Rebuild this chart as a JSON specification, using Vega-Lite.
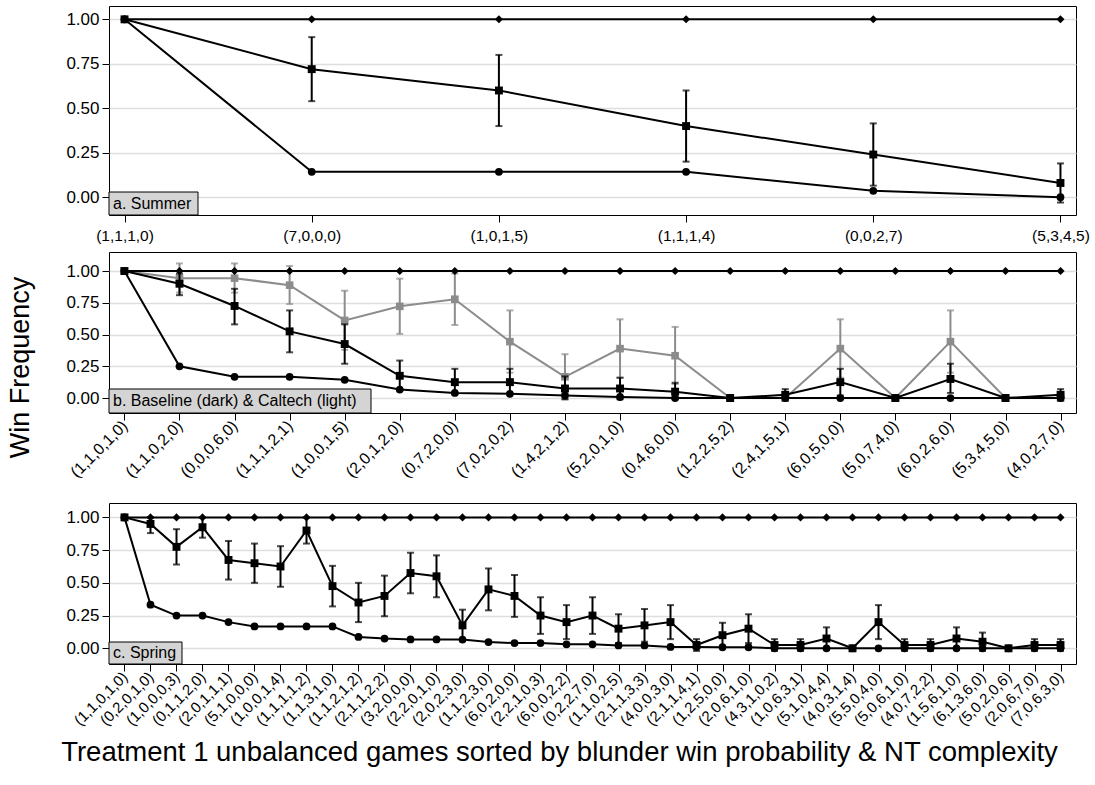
{
"$schema": "https://vega.github.io/schema/vega-lite/v6.json",
"padding": {"left": 5, "top": 5, "right": 5, "bottom": 5},
"background": "#ffffff",
"spacing": 7,
"config": {
  "font": "Liberation Sans",
  "view": {"stroke": "#000000", "strokeWidth": 1},
  "axis": {"domain": false, "tickColor": "#000000", "tickSize": 7, "tickWidth": 1, "labelColor": "#000000", "titleColor": "#000000", "labelFont": "Liberation Sans", "titleFont": "Liberation Sans", "titleFontWeight": "normal", "gridColor": "#dedede", "gridWidth": 1.6}
},
"datasets": {
  "A": [
    {"g":"(1,1,1,0)","s":"top","v":1},{"g":"(7,0,0,0)","s":"top","v":1},{"g":"(1,0,1,5)","s":"top","v":1},{"g":"(1,1,1,4)","s":"top","v":1},{"g":"(0,0,2,7)","s":"top","v":1},{"g":"(5,3,4,5)","s":"top","v":1},
    {"g":"(1,1,1,0)","s":"mid","v":1},{"g":"(7,0,0,0)","s":"mid","v":0.72,"lo":0.54,"hi":0.9},{"g":"(1,0,1,5)","s":"mid","v":0.6,"lo":0.4,"hi":0.8},{"g":"(1,1,1,4)","s":"mid","v":0.4,"lo":0.2,"hi":0.6},{"g":"(0,0,2,7)","s":"mid","v":0.24,"lo":0.065,"hi":0.415},{"g":"(5,3,4,5)","s":"mid","v":0.08,"lo":-0.03,"hi":0.19},
    {"g":"(1,1,1,0)","s":"low","v":1},{"g":"(7,0,0,0)","s":"low","v":0.143},{"g":"(1,0,1,5)","s":"low","v":0.143},{"g":"(1,1,1,4)","s":"low","v":0.143},{"g":"(0,0,2,7)","s":"low","v":0.036},{"g":"(5,3,4,5)","s":"low","v":0}
  ],
  "B": [
    {"g":"(1,1,0,1,0)","s":"cal","v":1},{"g":"(1,1,0,2,0)","s":"cal","v":0.944,"lo":0.83,"hi":1.06},{"g":"(0,0,0,6,0)","s":"cal","v":0.944,"lo":0.83,"hi":1.06},{"g":"(1,1,1,2,1)","s":"cal","v":0.889,"lo":0.74,"hi":1.04},{"g":"(1,0,0,1,5)","s":"cal","v":0.611,"lo":0.38,"hi":0.845},{"g":"(2,0,1,2,0)","s":"cal","v":0.722,"lo":0.505,"hi":0.94},{"g":"(0,7,2,0,0)","s":"cal","v":0.778,"lo":0.575,"hi":0.98},{"g":"(7,0,2,0,2)","s":"cal","v":0.444,"lo":0.2,"hi":0.69},{"g":"(1,4,2,1,2)","s":"cal","v":0.167,"lo":-0.01,"hi":0.345},{"g":"(5,2,0,1,0)","s":"cal","v":0.389,"lo":0.16,"hi":0.62},{"g":"(0,4,6,0,0)","s":"cal","v":0.333,"lo":0.11,"hi":0.56},{"g":"(1,2,2,5,2)","s":"cal","v":0},{"g":"(2,4,1,5,1)","s":"cal","v":0},{"g":"(6,0,5,0,0)","s":"cal","v":0.389,"lo":0.16,"hi":0.62},{"g":"(5,0,7,4,0)","s":"cal","v":0},{"g":"(6,0,2,6,0)","s":"cal","v":0.444,"lo":0.2,"hi":0.69},{"g":"(5,3,4,5,0)","s":"cal","v":0},{"g":"(4,0,2,7,0)","s":"cal","v":0},
    {"g":"(1,1,0,1,0)","s":"top","v":1},{"g":"(1,1,0,2,0)","s":"top","v":1},{"g":"(0,0,0,6,0)","s":"top","v":1},{"g":"(1,1,1,2,1)","s":"top","v":1},{"g":"(1,0,0,1,5)","s":"top","v":1},{"g":"(2,0,1,2,0)","s":"top","v":1},{"g":"(0,7,2,0,0)","s":"top","v":1},{"g":"(7,0,2,0,2)","s":"top","v":1},{"g":"(1,4,2,1,2)","s":"top","v":1},{"g":"(5,2,0,1,0)","s":"top","v":1},{"g":"(0,4,6,0,0)","s":"top","v":1},{"g":"(1,2,2,5,2)","s":"top","v":1},{"g":"(2,4,1,5,1)","s":"top","v":1},{"g":"(6,0,5,0,0)","s":"top","v":1},{"g":"(5,0,7,4,0)","s":"top","v":1},{"g":"(6,0,2,6,0)","s":"top","v":1},{"g":"(5,3,4,5,0)","s":"top","v":1},{"g":"(4,0,2,7,0)","s":"top","v":1},
    {"g":"(1,1,0,1,0)","s":"mid","v":1},{"g":"(1,1,0,2,0)","s":"mid","v":0.9,"lo":0.81,"hi":0.98},{"g":"(0,0,0,6,0)","s":"mid","v":0.725,"lo":0.58,"hi":0.86},{"g":"(1,1,1,2,1)","s":"mid","v":0.525,"lo":0.36,"hi":0.69},{"g":"(1,0,0,1,5)","s":"mid","v":0.425,"lo":0.27,"hi":0.58},{"g":"(2,0,1,2,0)","s":"mid","v":0.175,"lo":0.06,"hi":0.295},{"g":"(0,7,2,0,0)","s":"mid","v":0.125,"lo":0.03,"hi":0.23},{"g":"(7,0,2,0,2)","s":"mid","v":0.125,"lo":0.03,"hi":0.23},{"g":"(1,4,2,1,2)","s":"mid","v":0.075,"lo":-0.01,"hi":0.17},{"g":"(5,2,0,1,0)","s":"mid","v":0.075,"lo":-0.01,"hi":0.16},{"g":"(0,4,6,0,0)","s":"mid","v":0.05,"lo":-0.01,"hi":0.12},{"g":"(1,2,2,5,2)","s":"mid","v":0},{"g":"(2,4,1,5,1)","s":"mid","v":0.025,"lo":-0.02,"hi":0.07},{"g":"(6,0,5,0,0)","s":"mid","v":0.125,"lo":0.02,"hi":0.23},{"g":"(5,0,7,4,0)","s":"mid","v":0},{"g":"(6,0,2,6,0)","s":"mid","v":0.15,"lo":0.04,"hi":0.27},{"g":"(5,3,4,5,0)","s":"mid","v":0},{"g":"(4,0,2,7,0)","s":"mid","v":0.025,"lo":-0.02,"hi":0.07},
    {"g":"(1,1,0,1,0)","s":"low","v":1},{"g":"(1,1,0,2,0)","s":"low","v":0.25},{"g":"(0,0,0,6,0)","s":"low","v":0.167},{"g":"(1,1,1,2,1)","s":"low","v":0.167},{"g":"(1,0,0,1,5)","s":"low","v":0.143},{"g":"(2,0,1,2,0)","s":"low","v":0.067},{"g":"(0,7,2,0,0)","s":"low","v":0.04},{"g":"(7,0,2,0,2)","s":"low","v":0.033},{"g":"(1,4,2,1,2)","s":"low","v":0.02},{"g":"(5,2,0,1,0)","s":"low","v":0.008},{"g":"(0,4,6,0,0)","s":"low","v":0},{"g":"(1,2,2,5,2)","s":"low","v":0},{"g":"(2,4,1,5,1)","s":"low","v":0},{"g":"(6,0,5,0,0)","s":"low","v":0},{"g":"(5,0,7,4,0)","s":"low","v":0},{"g":"(6,0,2,6,0)","s":"low","v":0},{"g":"(5,3,4,5,0)","s":"low","v":0},{"g":"(4,0,2,7,0)","s":"low","v":0}
  ],
  "C": [
    {"g":"(1,1,0,1,0)","s":"top","v":1},{"g":"(0,2,0,1,0)","s":"top","v":1},{"g":"(1,0,0,0,3)","s":"top","v":1},{"g":"(0,1,1,2,0)","s":"top","v":1},{"g":"(2,0,1,1,1)","s":"top","v":1},{"g":"(5,1,0,0,0)","s":"top","v":1},{"g":"(1,0,0,1,4)","s":"top","v":1},{"g":"(1,1,1,1,2)","s":"top","v":1},{"g":"(1,1,3,1,0)","s":"top","v":1},{"g":"(1,1,2,1,2)","s":"top","v":1},{"g":"(2,1,1,2,2)","s":"top","v":1},{"g":"(3,2,0,0,0)","s":"top","v":1},{"g":"(2,2,0,1,0)","s":"top","v":1},{"g":"(2,0,2,3,0)","s":"top","v":1},{"g":"(1,1,2,3,0)","s":"top","v":1},{"g":"(6,0,2,0,0)","s":"top","v":1},{"g":"(2,2,1,0,3)","s":"top","v":1},{"g":"(6,0,0,2,2)","s":"top","v":1},{"g":"(0,2,2,7,0)","s":"top","v":1},{"g":"(1,1,0,2,5)","s":"top","v":1},{"g":"(2,1,1,3,3)","s":"top","v":1},{"g":"(4,0,0,3,0)","s":"top","v":1},{"g":"(2,1,1,4,1)","s":"top","v":1},{"g":"(1,2,5,0,0)","s":"top","v":1},{"g":"(2,0,6,1,0)","s":"top","v":1},{"g":"(4,3,1,0,2)","s":"top","v":1},{"g":"(1,0,6,3,1)","s":"top","v":1},{"g":"(5,1,0,4,4)","s":"top","v":1},{"g":"(4,0,3,1,4)","s":"top","v":1},{"g":"(5,5,0,4,0)","s":"top","v":1},{"g":"(5,0,6,1,0)","s":"top","v":1},{"g":"(4,0,7,2,2)","s":"top","v":1},{"g":"(1,5,6,1,0)","s":"top","v":1},{"g":"(6,1,3,6,0)","s":"top","v":1},{"g":"(5,0,2,0,6)","s":"top","v":1},{"g":"(2,0,6,7,0)","s":"top","v":1},{"g":"(7,0,6,3,0)","s":"top","v":1},
    {"g":"(1,1,0,1,0)","s":"mid","v":1},{"g":"(0,2,0,1,0)","s":"mid","v":0.95,"lo":0.88,"hi":1.0},{"g":"(1,0,0,0,3)","s":"mid","v":0.775,"lo":0.64,"hi":0.91},{"g":"(0,1,1,2,0)","s":"mid","v":0.925,"lo":0.845,"hi":1.0},{"g":"(2,0,1,1,1)","s":"mid","v":0.675,"lo":0.525,"hi":0.82},{"g":"(5,1,0,0,0)","s":"mid","v":0.65,"lo":0.5,"hi":0.8},{"g":"(1,0,0,1,4)","s":"mid","v":0.625,"lo":0.47,"hi":0.78},{"g":"(1,1,1,1,2)","s":"mid","v":0.9,"lo":0.8,"hi":1.0},{"g":"(1,1,3,1,0)","s":"mid","v":0.475,"lo":0.32,"hi":0.63},{"g":"(1,1,2,1,2)","s":"mid","v":0.35,"lo":0.2,"hi":0.5},{"g":"(2,1,1,2,2)","s":"mid","v":0.4,"lo":0.245,"hi":0.555},{"g":"(3,2,0,0,0)","s":"mid","v":0.575,"lo":0.42,"hi":0.73},{"g":"(2,2,0,1,0)","s":"mid","v":0.55,"lo":0.39,"hi":0.71},{"g":"(2,0,2,3,0)","s":"mid","v":0.175,"lo":0.055,"hi":0.295},{"g":"(1,1,2,3,0)","s":"mid","v":0.45,"lo":0.29,"hi":0.61},{"g":"(6,0,2,0,0)","s":"mid","v":0.4,"lo":0.24,"hi":0.56},{"g":"(2,2,1,0,3)","s":"mid","v":0.25,"lo":0.11,"hi":0.39},{"g":"(6,0,0,2,2)","s":"mid","v":0.2,"lo":0.07,"hi":0.33},{"g":"(0,2,2,7,0)","s":"mid","v":0.25,"lo":0.11,"hi":0.39},{"g":"(1,1,0,2,5)","s":"mid","v":0.15,"lo":0.04,"hi":0.26},{"g":"(2,1,1,3,3)","s":"mid","v":0.175,"lo":0.05,"hi":0.3},{"g":"(4,0,0,3,0)","s":"mid","v":0.2,"lo":0.07,"hi":0.33},{"g":"(2,1,1,4,1)","s":"mid","v":0.025,"lo":-0.02,"hi":0.07},{"g":"(1,2,5,0,0)","s":"mid","v":0.1,"lo":0.005,"hi":0.195},{"g":"(2,0,6,1,0)","s":"mid","v":0.15,"lo":0.04,"hi":0.26},{"g":"(4,3,1,0,2)","s":"mid","v":0.025,"lo":-0.02,"hi":0.07},{"g":"(1,0,6,3,1)","s":"mid","v":0.025,"lo":-0.02,"hi":0.07},{"g":"(5,1,0,4,4)","s":"mid","v":0.075,"lo":-0.01,"hi":0.16},{"g":"(4,0,3,1,4)","s":"mid","v":0},{"g":"(5,5,0,4,0)","s":"mid","v":0.2,"lo":0.07,"hi":0.33},{"g":"(5,0,6,1,0)","s":"mid","v":0.025,"lo":-0.02,"hi":0.07},{"g":"(4,0,7,2,2)","s":"mid","v":0.025,"lo":-0.02,"hi":0.07},{"g":"(1,5,6,1,0)","s":"mid","v":0.075,"lo":-0.01,"hi":0.16},{"g":"(6,1,3,6,0)","s":"mid","v":0.05,"lo":-0.02,"hi":0.12},{"g":"(5,0,2,0,6)","s":"mid","v":0},{"g":"(2,0,6,7,0)","s":"mid","v":0.025,"lo":-0.02,"hi":0.07},{"g":"(7,0,6,3,0)","s":"mid","v":0.025,"lo":-0.02,"hi":0.07},
    {"g":"(1,1,0,1,0)","s":"low","v":1},{"g":"(0,2,0,1,0)","s":"low","v":0.333},{"g":"(1,0,0,0,3)","s":"low","v":0.25},{"g":"(0,1,1,2,0)","s":"low","v":0.25},{"g":"(2,0,1,1,1)","s":"low","v":0.2},{"g":"(5,1,0,0,0)","s":"low","v":0.167},{"g":"(1,0,0,1,4)","s":"low","v":0.167},{"g":"(1,1,1,1,2)","s":"low","v":0.167},{"g":"(1,1,3,1,0)","s":"low","v":0.167},{"g":"(1,1,2,1,2)","s":"low","v":0.087},{"g":"(2,1,1,2,2)","s":"low","v":0.074},{"g":"(3,2,0,0,0)","s":"low","v":0.068},{"g":"(2,2,0,1,0)","s":"low","v":0.068},{"g":"(2,0,2,3,0)","s":"low","v":0.067},{"g":"(1,1,2,3,0)","s":"low","v":0.048},{"g":"(6,0,2,0,0)","s":"low","v":0.04},{"g":"(2,2,1,0,3)","s":"low","v":0.04},{"g":"(6,0,0,2,2)","s":"low","v":0.03},{"g":"(0,2,2,7,0)","s":"low","v":0.03},{"g":"(1,1,0,2,5)","s":"low","v":0.022},{"g":"(2,1,1,3,3)","s":"low","v":0.022},{"g":"(4,0,0,3,0)","s":"low","v":0.01},{"g":"(2,1,1,4,1)","s":"low","v":0.01},{"g":"(1,2,5,0,0)","s":"low","v":0.008},{"g":"(2,0,6,1,0)","s":"low","v":0.008},{"g":"(4,3,1,0,2)","s":"low","v":0},{"g":"(1,0,6,3,1)","s":"low","v":0},{"g":"(5,1,0,4,4)","s":"low","v":0},{"g":"(4,0,3,1,4)","s":"low","v":0},{"g":"(5,5,0,4,0)","s":"low","v":0},{"g":"(5,0,6,1,0)","s":"low","v":0},{"g":"(4,0,7,2,2)","s":"low","v":0},{"g":"(1,5,6,1,0)","s":"low","v":0},{"g":"(6,1,3,6,0)","s":"low","v":0},{"g":"(5,0,2,0,6)","s":"low","v":0},{"g":"(2,0,6,7,0)","s":"low","v":0},{"g":"(7,0,6,3,0)","s":"low","v":0}
  ]
},
"vconcat": [
  {
    "width": 967, "height": 209,
    "data": {"name": "A"},
    "encoding": {"x": {"field": "g", "type": "nominal", "sort": null, "scale": {"type": "point", "padding": 0.083, "domain": ["(1,1,1,0)","(7,0,0,0)","(1,0,1,5)","(1,1,1,4)","(0,0,2,7)","(5,3,4,5)"]}, "axis": {"title": null, "labelAngle": 0, "labelFontSize": 15.5, "labelPadding": 6, "grid": false, "labelOverlap": false}}},
    "layer": [
      {"transform": [{"filter": "isValid(datum.hi)"}], "mark": {"type": "rule", "strokeWidth": 2},
       "encoding": {"y": {"field": "lo", "type": "quantitative", "scale": {"domain": [-0.1, 1.075], "nice": false, "zero": false}}, "y2": {"field": "hi"}, "color": {"field": "s", "type": "nominal", "scale": {"domain": ["top","mid","low","cal"], "range": ["#000000","#000000","#000000","#8c8c8c"]}, "legend": null}}},
      {"transform": [{"filter": "isValid(datum.hi)"}], "mark": {"type": "tick", "thickness": 2, "size": 7},
       "encoding": {"y": {"field": "lo", "type": "quantitative"}, "color": {"field": "s", "type": "nominal", "legend": null}}},
      {"transform": [{"filter": "isValid(datum.hi)"}], "mark": {"type": "tick", "thickness": 2, "size": 7},
       "encoding": {"y": {"field": "hi", "type": "quantitative"}, "color": {"field": "s", "type": "nominal", "legend": null}}},
      {"mark": {"type": "line", "strokeWidth": 2},
       "encoding": {"y": {"field": "v", "type": "quantitative", "axis": {"title": null, "values": [0, 0.25, 0.5, 0.75, 1], "format": ".2f", "grid": true, "labelFontSize": 17, "labelPadding": 3}}, "color": {"field": "s", "type": "nominal", "legend": null}, "detail": {"field": "s"}, "order": {"value": null}}},
      {"mark": {"type": "point", "filled": true, "opacity": 1},
       "encoding": {"y": {"field": "v", "type": "quantitative"}, "color": {"field": "s", "type": "nominal", "legend": null}, "shape": {"field": "s", "type": "nominal", "scale": {"domain": ["top","mid","low","cal"], "range": ["diamond","square","circle","square"]}, "legend": null}, "size": {"field": "s", "type": "nominal", "scale": {"domain": ["top","mid","low","cal"], "range": [65, 58, 42, 58]}, "legend": null}}},
      {"data": {"values": [{"lab": "a. Summer"}]}, "mark": {"type": "rect", "fill": "#d4d4d4", "stroke": "#000000", "strokeWidth": 1},
       "encoding": {"x": {"value": 0}, "x2": {"value": 89}, "y": {"value": 186}, "y2": {"value": 209}}},
      {"data": {"values": [{"lab": "a. Summer"}]}, "mark": {"type": "text", "align": "left", "baseline": "middle", "fontSize": 16, "color": "#000000"},
       "encoding": {"x": {"value": 4}, "y": {"value": 197.5}, "text": {"field": "lab"}}}
    ]
  },
  {
    "width": 967, "height": 161,
    "data": {"name": "B"},
    "encoding": {"x": {"field": "g", "type": "nominal", "sort": null, "scale": {"type": "point", "padding": 0.28, "domain": ["(1,1,0,1,0)","(1,1,0,2,0)","(0,0,0,6,0)","(1,1,1,2,1)","(1,0,0,1,5)","(2,0,1,2,0)","(0,7,2,0,0)","(7,0,2,0,2)","(1,4,2,1,2)","(5,2,0,1,0)","(0,4,6,0,0)","(1,2,2,5,2)","(2,4,1,5,1)","(6,0,5,0,0)","(5,0,7,4,0)","(6,0,2,6,0)","(5,3,4,5,0)","(4,0,2,7,0)"]}, "axis": {"title": " ", "titleFontSize": 10, "titlePadding": 4, "labelAngle": -45, "labelAlign": "right", "labelBaseline": "middle", "labelFontSize": 16, "labelPadding": 3, "grid": false, "labelOverlap": false}}},
    "layer": [
      {"transform": [{"filter": "datum.s == 'cal' && isValid(datum.hi)"}], "mark": {"type": "rule", "strokeWidth": 2},
       "encoding": {"y": {"field": "lo", "type": "quantitative", "scale": {"domain": [-0.118, 1.15], "nice": false, "zero": false}}, "y2": {"field": "hi"}, "color": {"field": "s", "type": "nominal", "scale": {"domain": ["top","mid","low","cal"], "range": ["#000000","#000000","#000000","#8c8c8c"]}, "legend": null}}},
      {"transform": [{"filter": "datum.s == 'cal' && isValid(datum.hi)"}], "mark": {"type": "tick", "thickness": 2, "size": 7},
       "encoding": {"y": {"field": "lo", "type": "quantitative"}, "color": {"field": "s", "type": "nominal", "legend": null}}},
      {"transform": [{"filter": "datum.s == 'cal' && isValid(datum.hi)"}], "mark": {"type": "tick", "thickness": 2, "size": 7},
       "encoding": {"y": {"field": "hi", "type": "quantitative"}, "color": {"field": "s", "type": "nominal", "legend": null}}},
      {"transform": [{"filter": "datum.s == 'cal'"}], "mark": {"type": "line", "strokeWidth": 2},
       "encoding": {"y": {"field": "v", "type": "quantitative"}, "color": {"field": "s", "type": "nominal", "legend": null}, "detail": {"field": "s"}, "order": {"value": null}}},
      {"transform": [{"filter": "datum.s == 'cal'"}], "mark": {"type": "point", "filled": true, "opacity": 1},
       "encoding": {"y": {"field": "v", "type": "quantitative"}, "color": {"field": "s", "type": "nominal", "legend": null}, "shape": {"field": "s", "type": "nominal", "scale": {"domain": ["top","mid","low","cal"], "range": ["diamond","square","circle","square"]}, "legend": null}, "size": {"field": "s", "type": "nominal", "scale": {"domain": ["top","mid","low","cal"], "range": [65, 58, 42, 58]}, "legend": null}}},
      {"transform": [{"filter": "datum.s != 'cal' && isValid(datum.hi)"}], "mark": {"type": "rule", "strokeWidth": 2},
       "encoding": {"y": {"field": "lo", "type": "quantitative"}, "y2": {"field": "hi"}, "color": {"field": "s", "type": "nominal", "legend": null}}},
      {"transform": [{"filter": "datum.s != 'cal' && isValid(datum.hi)"}], "mark": {"type": "tick", "thickness": 2, "size": 7},
       "encoding": {"y": {"field": "lo", "type": "quantitative"}, "color": {"field": "s", "type": "nominal", "legend": null}}},
      {"transform": [{"filter": "datum.s != 'cal' && isValid(datum.hi)"}], "mark": {"type": "tick", "thickness": 2, "size": 7},
       "encoding": {"y": {"field": "hi", "type": "quantitative"}, "color": {"field": "s", "type": "nominal", "legend": null}}},
      {"transform": [{"filter": "datum.s != 'cal'"}], "mark": {"type": "line", "strokeWidth": 2},
       "encoding": {"y": {"field": "v", "type": "quantitative", "axis": {"title": "Win Frequency", "titleFontSize": 27, "titleX": -81, "titleY": 115, "titleAngle": -90, "titleAlign": "center", "titleBaseline": "alphabetic", "values": [0, 0.25, 0.5, 0.75, 1], "format": ".2f", "grid": true, "labelFontSize": 17, "labelPadding": 3}}, "color": {"field": "s", "type": "nominal", "legend": null}, "detail": {"field": "s"}, "order": {"value": null}}},
      {"transform": [{"filter": "datum.s != 'cal'"}], "mark": {"type": "point", "filled": true, "opacity": 1},
       "encoding": {"y": {"field": "v", "type": "quantitative"}, "color": {"field": "s", "type": "nominal", "legend": null}, "shape": {"field": "s", "type": "nominal", "legend": null}, "size": {"field": "s", "type": "nominal", "legend": null}}},
      {"data": {"values": [{"lab": "b. Baseline (dark) & Caltech (light)"}]}, "mark": {"type": "rect", "fill": "#d4d4d4", "stroke": "#000000", "strokeWidth": 1},
       "encoding": {"x": {"value": 0}, "x2": {"value": 262}, "y": {"value": 137}, "y2": {"value": 161}}},
      {"data": {"values": [{"lab": "b. Baseline (dark) & Caltech (light)"}]}, "mark": {"type": "text", "align": "left", "baseline": "middle", "fontSize": 16, "color": "#000000"},
       "encoding": {"x": {"value": 4}, "y": {"value": 149}, "text": {"field": "lab"}}}
    ]
  },
  {
    "width": 967, "height": 161,
    "data": {"name": "C"},
    "encoding": {"x": {"field": "g", "type": "nominal", "sort": null, "scale": {"type": "point", "padding": 0.596, "domain": ["(1,1,0,1,0)","(0,2,0,1,0)","(1,0,0,0,3)","(0,1,1,2,0)","(2,0,1,1,1)","(5,1,0,0,0)","(1,0,0,1,4)","(1,1,1,1,2)","(1,1,3,1,0)","(1,1,2,1,2)","(2,1,1,2,2)","(3,2,0,0,0)","(2,2,0,1,0)","(2,0,2,3,0)","(1,1,2,3,0)","(6,0,2,0,0)","(2,2,1,0,3)","(6,0,0,2,2)","(0,2,2,7,0)","(1,1,0,2,5)","(2,1,1,3,3)","(4,0,0,3,0)","(2,1,1,4,1)","(1,2,5,0,0)","(2,0,6,1,0)","(4,3,1,0,2)","(1,0,6,3,1)","(5,1,0,4,4)","(4,0,3,1,4)","(5,5,0,4,0)","(5,0,6,1,0)","(4,0,7,2,2)","(1,5,6,1,0)","(6,1,3,6,0)","(5,0,2,0,6)","(2,0,6,7,0)","(7,0,6,3,0)"]}, "axis": {"title": "Treatment 1 unbalanced games sorted by blunder win probability & NT complexity", "titleFontSize": 27.5, "titleX": 450, "titleY": 88, "titleAlign": "center", "titleBaseline": "middle", "labelAngle": -45, "labelAlign": "right", "labelBaseline": "middle", "labelFontSize": 15, "labelPadding": 3, "grid": false, "labelOverlap": false}}},
    "layer": [
      {"transform": [{"filter": "isValid(datum.hi)"}], "mark": {"type": "rule", "strokeWidth": 2},
       "encoding": {"y": {"field": "lo", "type": "quantitative", "scale": {"domain": [-0.12, 1.11], "nice": false, "zero": false}}, "y2": {"field": "hi"}, "color": {"field": "s", "type": "nominal", "scale": {"domain": ["top","mid","low","cal"], "range": ["#000000","#000000","#000000","#8c8c8c"]}, "legend": null}}},
      {"transform": [{"filter": "isValid(datum.hi)"}], "mark": {"type": "tick", "thickness": 2, "size": 7},
       "encoding": {"y": {"field": "lo", "type": "quantitative"}, "color": {"field": "s", "type": "nominal", "legend": null}}},
      {"transform": [{"filter": "isValid(datum.hi)"}], "mark": {"type": "tick", "thickness": 2, "size": 7},
       "encoding": {"y": {"field": "hi", "type": "quantitative"}, "color": {"field": "s", "type": "nominal", "legend": null}}},
      {"mark": {"type": "line", "strokeWidth": 2},
       "encoding": {"y": {"field": "v", "type": "quantitative", "axis": {"title": null, "values": [0, 0.25, 0.5, 0.75, 1], "format": ".2f", "grid": true, "labelFontSize": 17, "labelPadding": 3}}, "color": {"field": "s", "type": "nominal", "legend": null}, "detail": {"field": "s"}, "order": {"value": null}}},
      {"mark": {"type": "point", "filled": true, "opacity": 1},
       "encoding": {"y": {"field": "v", "type": "quantitative"}, "color": {"field": "s", "type": "nominal", "legend": null}, "shape": {"field": "s", "type": "nominal", "scale": {"domain": ["top","mid","low","cal"], "range": ["diamond","square","circle","square"]}, "legend": null}, "size": {"field": "s", "type": "nominal", "scale": {"domain": ["top","mid","low","cal"], "range": [65, 58, 42, 58]}, "legend": null}}},
      {"data": {"values": [{"lab": "c. Spring"}]}, "mark": {"type": "rect", "fill": "#d4d4d4", "stroke": "#000000", "strokeWidth": 1},
       "encoding": {"x": {"value": 0}, "x2": {"value": 73}, "y": {"value": 139}, "y2": {"value": 161}}},
      {"data": {"values": [{"lab": "c. Spring"}]}, "mark": {"type": "text", "align": "left", "baseline": "middle", "fontSize": 16, "color": "#000000"},
       "encoding": {"x": {"value": 4}, "y": {"value": 150}, "text": {"field": "lab"}}}
    ]
  }
]
}
